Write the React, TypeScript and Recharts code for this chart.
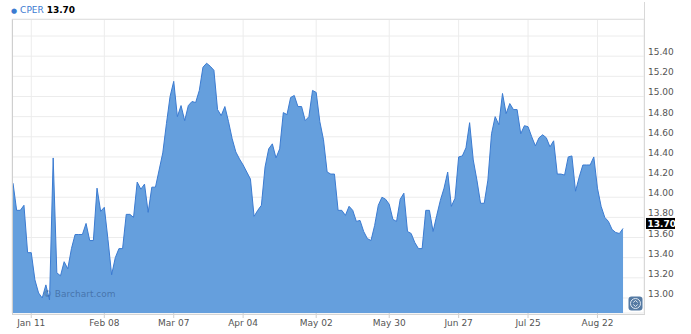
import React from 'react';
import { AreaChart, Area, XAxis, YAxis, CartesianGrid, ReferenceLine } from 'recharts';

// daily closes, first trading day of Jan through end of Aug
const prices = [
  14.14, 13.87, 13.87, 13.92, 13.45, 13.45, 13.18, 13.05, 13.0, 13.13, 12.98, 14.39,
  13.25, 13.22, 13.36, 13.29, 13.49, 13.63, 13.63, 13.63, 13.74, 13.57, 13.57, 14.09,
  13.86, 13.9, 13.58, 13.23, 13.4, 13.49, 13.49, 13.83, 13.83, 13.8, 14.15, 14.08,
  14.13, 13.85, 14.1, 14.1, 14.27, 14.44, 14.73, 15.0, 15.15, 14.8, 14.91, 14.76,
  14.91, 14.95, 14.94, 15.06, 15.29, 15.33, 15.3, 15.26, 14.87, 14.81, 14.9, 14.75,
  14.58, 14.45, 14.38, 14.32, 14.25, 14.18, 13.81, 13.87, 13.92, 14.3, 14.48, 14.53,
  14.39, 14.48, 14.84, 14.82, 14.99, 15.01, 14.9, 14.9, 14.76, 14.8, 15.06, 15.04,
  14.75, 14.57, 14.25, 14.23, 14.23, 13.87, 13.87, 13.82, 13.91, 13.87, 13.76, 13.77,
  13.66, 13.59, 13.57, 13.72, 13.92, 14.0, 13.98, 13.93, 13.78, 13.76, 13.98, 14.04,
  13.66, 13.64, 13.55, 13.49, 13.49, 13.87, 13.87, 13.66, 13.82, 13.97, 14.09, 14.25,
  13.91, 13.99, 14.4, 14.41, 14.49, 14.74, 14.37, 14.17, 13.94, 13.94, 14.17, 14.63,
  14.8, 14.72, 15.03, 14.83, 14.93, 14.87, 14.87, 14.63, 14.71, 14.7, 14.6, 14.51,
  14.59, 14.62, 14.59, 14.5, 14.56, 14.23, 14.23, 14.22, 14.4, 14.41, 14.06, 14.2,
  14.32, 14.32, 14.32, 14.4, 14.09, 13.91, 13.8, 13.76, 13.68, 13.65, 13.64, 13.69,
];

const tickDays = [5, 25, 44, 63, 83, 103, 122, 141, 160];
const tickLabels = ['Jan 11', 'Feb 08', 'Mar 07', 'Apr 04', 'May 02', 'May 30', 'Jun 27', 'Jul 25', 'Aug 22'];
const priceTicks = [13.0, 13.2, 13.4, 13.6, 13.8, 14.0, 14.2, 14.4, 14.6, 14.8, 15.0, 15.2, 15.4, 15.6];
const highestLabel = 15.4;
const symbol = 'CPER';
const lastPrice = 13.7;

const data = prices.map((price, day) => ({ day, price }));

const FONT = '"DejaVu Sans", Verdana, sans-serif';

function XTick({ x, y, payload }: any) {
  const idx = tickDays.indexOf(payload.value);
  return (
    <text x={x} y={y + 8} textAnchor="middle" fontSize={9} fontFamily={FONT} fill="#555">
      {tickLabels[idx]}
    </text>
  );
}

function YTick({ x, y, payload }: any) {
  if (payload.value > highestLabel + 0.001) return <g />;
  return (
    <text x={x + 4} y={y - 1} textAnchor="start" fontSize={9} fontFamily={FONT} fill="#555">
      {payload.value.toFixed(2)}
    </text>
  );
}

function PriceBadge(props: any) {
  const vb = props.viewBox || {};
  const left = vb.x + vb.width + 2;
  const cy = vb.y - 4;
  return (
    <g>
      <rect x={left} y={cy - 5.5} width={29} height={11} fill="#000" />
      <text x={left + 1.5} y={cy + 3.3} fontSize={9} fontWeight="bold" fontFamily={FONT} fill="#fff">
        {lastPrice.toFixed(2)}
      </text>
    </g>
  );
}

export default function App() {
  return (
    <div style={{ position: 'absolute', left: 0, top: 0, width: 691, height: 334, background: '#fff' }}>
      <AreaChart
        width={691}
        height={334}
        data={data}
        margin={{ top: 19, right: 0, bottom: 0, left: 12 }}
      >
        <CartesianGrid stroke="#ececec" />
        <XAxis
          dataKey="day"
          type="number"
          domain={[-0.274, 172.74]}
          allowDataOverflow
          ticks={tickDays}
          tick={<XTick />}
          tickSize={5}
          tickMargin={0}
          height={21}
          axisLine={false}
          tickLine={{ stroke: '#cfcfcf' }}
          interval={0}
        />
        <YAxis
          orientation="right"
          type="number"
          domain={[12.851, 15.769]}
          allowDataOverflow
          ticks={priceTicks}
          tick={<YTick />}
          tickSize={0}
          tickMargin={0}
          width={47}
          axisLine={false}
          tickLine={false}
          interval={0}
        />
        <Area
          type="linear"
          dataKey="price"
          stroke="#3b7bd1"
          strokeWidth={1}
          fill="#659fdd"
          fillOpacity={1}
          dot={false}
          activeDot={false}
          isAnimationActive={false}
        />
        <ReferenceLine y={lastPrice} stroke="none" label={(p: any) => <PriceBadge {...p} />} />
      </AreaChart>

      {/* plot frame */}
      <div
        style={{
          position: 'absolute', left: 12, top: 19, width: 632, height: 294,
          borderLeft: '1px solid #cfcfcf', borderTop: '1px solid #e2e2e2',
          borderBottom: '1px solid #d5d5d5', pointerEvents: 'none',
        }}
      />
      <div style={{ position: 'absolute', left: 644, top: 2, width: 1, height: 312, background: '#d8d8d8' }} />

      {/* legend */}
      <div
        style={{
          position: 'absolute', left: 11, top: 4, fontFamily: FONT, fontSize: 9,
          lineHeight: '12px', whiteSpace: 'nowrap',
        }}
      >
        <span style={{ color: '#3b7bd1', fontSize: 7, marginRight: 3 }}>●</span>
        <span style={{ color: '#3b7bd1' }}>{symbol}</span>{' '}
        <span style={{ color: '#000', fontWeight: 'bold' }}>{lastPrice.toFixed(2)}</span>
      </div>

      {/* watermark */}
      <div
        style={{
          position: 'absolute', left: 43, top: 288, fontFamily: FONT, fontSize: 9,
          lineHeight: '12px', color: 'rgba(45,80,130,0.55)', whiteSpace: 'nowrap',
        }}
      >
        © Barchart.com
      </div>

      {/* scale button */}
      <svg style={{ position: 'absolute', left: 628, top: 296 }} width={15} height={15}>
        <rect x={0.5} y={0.5} width={14} height={14} rx={3} fill="#557aa3" />
        <circle cx={7.5} cy={7.5} r={5} fill="none" stroke="#dde6f0" strokeWidth={1} />
        <path d="M5.3 6.5 L7.5 4.5 L9.7 6.5 M5.3 8.5 L7.5 10.5 L9.7 8.5" fill="none" stroke="#dde6f0" strokeWidth={1} />
      </svg>
    </div>
  );
}
